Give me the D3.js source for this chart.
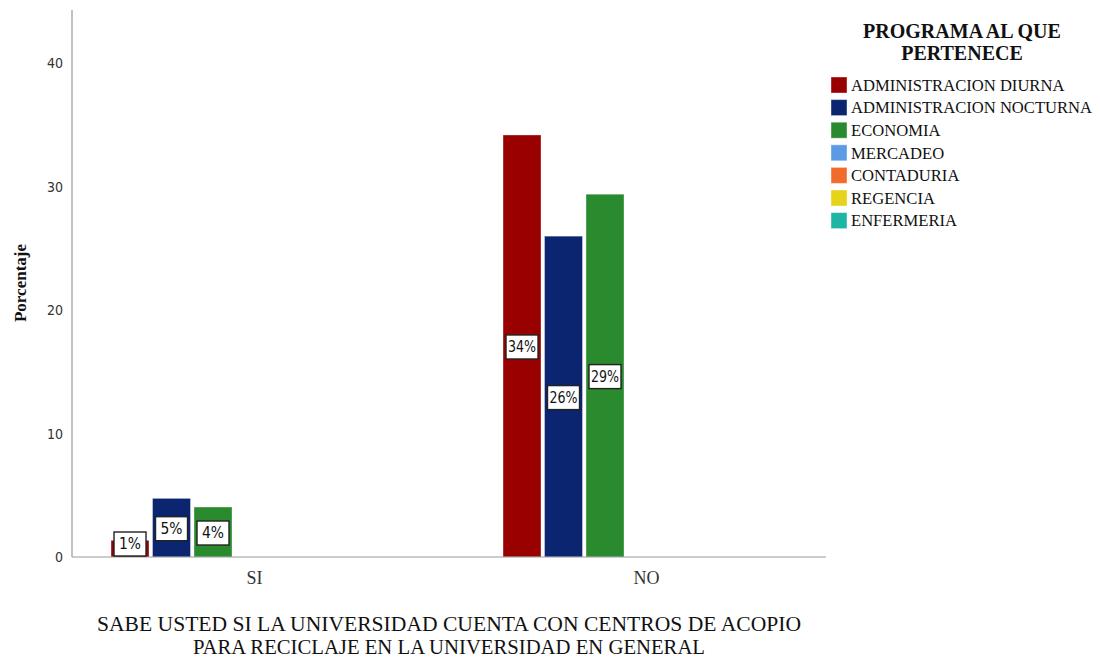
<!DOCTYPE html>
<html>
<head>
<meta charset="utf-8">
<script src="https://cdn.jsdelivr.net/npm/d3@7"></script>
<style>
  body { margin: 0; background: #fff; }
  .serif { font-family: 'Liberation Serif', 'DejaVu Serif', 'Times New Roman', serif; }
</style>
</head>
<body>
<div id="chart"></div>
<script>
const categories = ['SI', 'NO']
const programs = ['ADMINISTRACION DIURNA', 'ADMINISTRACION NOCTURNA', 'ECONOMIA', 'MERCADEO', 'CONTADURIA', 'REGENCIA', 'ENFERMERIA']
const colors = ['#990000', '#0b2570', '#2a8a2e', '#5b9be6', '#f26b2c', '#e6d41a', '#1fb5a5']
// percentage per program, one array per answer
const valuesSI = [1.35, 4.75, 4.05, 0, 0, 0, 0]
const valuesNO = [34.2, 26.0, 29.4, 0, 0, 0, 0]
const yTicks = [0, 10, 20, 30, 40]

init()

function init(){
    const width = 1100, height = 658
    const baseline = 557

    let svg = d3.select('#chart')
                .append('svg')
                .attr('width', width)
                .attr('height', height)

    const y = d3.scaleLinear().domain([0, 40]).range([baseline, 63.4])
    const x0 = d3.scaleBand().domain(categories).range([58.5, 842.5])
                .paddingInner(0.259).paddingOuter(0.1295)
    const x1 = d3.scaleBand().domain(programs).range([0, x0.bandwidth()])
                .paddingInner(0.085).paddingOuter(0.0425)
    const color = d3.scaleOrdinal().domain(programs).range(colors)

    const rows = [valuesSI, valuesNO]
    const data = []
    categories.forEach((c, i) => {
        programs.forEach((p, j) => data.push({cat: c, prog: p, v: rows[i][j]}))
    })

    // y axis
    const yAxis = svg.append('g')
        .attr('transform', 'translate(72,0)')
        .call(d3.axisLeft(y).tickValues(yTicks).tickSize(0).tickPadding(9))
    yAxis.select('.domain').remove()
    yAxis.selectAll('text')
        .style('font-family', 'DejaVu Sans Condensed, DejaVu Sans, sans-serif')
        .style('font-size', '14px')
        .style('fill', '#333')
    svg.append('line')
        .attr('x1', 72).attr('x2', 72)
        .attr('y1', 10).attr('y2', baseline)
        .style('stroke', '#999').style('stroke-width', 1.2)

    // bars
    const nz = data.filter(d => d.v > 0)
    svg.append('g').selectAll('rect')
        .data(nz)
        .enter().append('rect')
        .attr('x', d => x0(d.cat) + x1(d.prog))
        .attr('y', d => y(d.v))
        .attr('width', x1.bandwidth())
        .attr('height', d => baseline - y(d.v))
        .style('fill', d => color(d.prog))
        .style('stroke', '#ffffff')
        .style('stroke-opacity', 0.35)
        .style('stroke-width', 1)

    // x axis
    svg.append('line')
        .attr('x1', 72).attr('x2', 826)
        .attr('y1', baseline).attr('y2', baseline)
        .style('stroke', '#999').style('stroke-width', 1.2)

    svg.append('g').selectAll('text')
        .data(categories)
        .enter().append('text')
        .attr('class', 'serif')
        .attr('x', d => x0(d) + x0.bandwidth() / 2)
        .attr('y', 584)
        .attr('text-anchor', 'middle')
        .style('font-size', '18px')
        .style('fill', '#333')
        .text(d => d)

    // value labels
    const lab = svg.append('g').selectAll('g')
        .data(nz)
        .enter().append('g')
        .attr('transform', d => {
            const cx = x0(d.cat) + x1(d.prog) + x1.bandwidth() / 2
            const mid = Math.min((y(d.v) + baseline) / 2 + 1, baseline - 13)
            return `translate(${cx},${mid})`
        })
    lab.append('rect')
        .attr('x', -16).attr('y', -12)
        .attr('width', 32).attr('height', 24)
        .style('fill', '#fff')
        .style('stroke', '#222')
        .style('stroke-width', 1.4)
    lab.append('text')
        .attr('text-anchor', 'middle')
        .attr('dy', '0.36em')
        .attr('textLength', d => Math.round(d.v) >= 10 ? 28 : 22)
        .attr('lengthAdjust', 'spacingAndGlyphs')
        .style('font-family', 'DejaVu Sans Condensed, DejaVu Sans, sans-serif')
        .style('font-size', '15px')
        .style('fill', '#111')
        .text(d => Math.round(d.v) + '%')

    // axis titles
    svg.append('text')
        .attr('class', 'serif')
        .attr('transform', 'translate(26,283) rotate(-90)')
        .attr('text-anchor', 'middle')
        .style('font-weight', 'bold')
        .style('font-size', '17px')
        .style('fill', '#111')
        .text('Porcentaje')

    const xt = ['SABE USTED SI LA UNIVERSIDAD CUENTA CON CENTROS DE ACOPIO', 'PARA RECICLAJE EN LA UNIVERSIDAD EN GENERAL']
    const xtLen = [704, 512]
    svg.append('g').selectAll('text')
        .data(xt)
        .enter().append('text')
        .attr('class', 'serif')
        .attr('x', 449)
        .attr('y', (d, i) => 631 + i * 23)
        .attr('text-anchor', 'middle')
        .attr('textLength', (d, i) => xtLen[i])
        .attr('lengthAdjust', 'spacingAndGlyphs')
        .style('font-size', '20px')
        .style('fill', '#111')
        .text(d => d)

    // legend
    const lg = svg.append('g')
    lg.selectAll('text.title')
        .data(['PROGRAMA AL QUE', 'PERTENECE'])
        .enter().append('text')
        .attr('class', 'serif')
        .attr('x', 962)
        .attr('y', (d, i) => 38 + i * 22)
        .attr('text-anchor', 'middle')
        .style('font-weight', 'bold')
        .style('font-size', '20px')
        .style('fill', '#111')
        .text(d => d)

    const item = lg.selectAll('g.item')
        .data(programs)
        .enter().append('g')
        .attr('class', 'item')
        .attr('transform', (d, i) => `translate(831,${85 + i * 22.6})`)
    item.append('rect')
        .attr('x', 0).attr('y', -8)
        .attr('width', 16).attr('height', 16)
        .style('fill', d => color(d))
        .style('stroke', '#fff').style('stroke-opacity', 0.4)
    item.append('text')
        .attr('class', 'serif')
        .attr('x', 20)
        .attr('dy', '0.35em')
        .style('font-size', '16.6px')
        .style('fill', '#111')
        .text(d => d)
}
</script>
</body>
</html>
